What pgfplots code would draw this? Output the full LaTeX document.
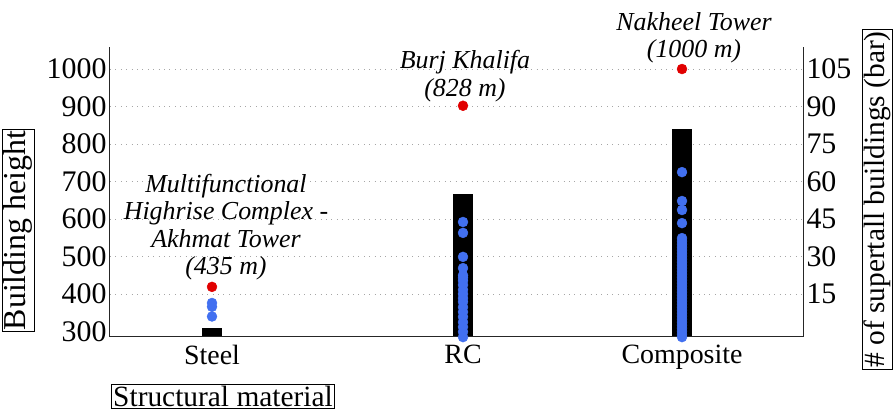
\documentclass[border=0pt]{standalone}
\usepackage{pgfplots}
\pgfplotsset{compat=1.18}
\usepackage{fontspec}
\setmainfont{Liberation Serif}
\definecolor{dotblue}{RGB}{66,112,240}
\definecolor{dotred}{RGB}{225,0,0}
\newcommand{\bigf}{\fontsize{28}{30}\selectfont}
\newcommand{\tickf}{\fontsize{30}{32}\selectfont}
\newcommand{\annf}{\fontsize{26}{27.5}\selectfont\itshape}
\begin{document}
\begin{tikzpicture}[x=1bp,y=1bp]
\pgfplotsset{base/.style={
  at={(110bp,76bp)}, anchor=south west,
  width=693bp, height=290bp, scale only axis,
  xmin=0, xmax=693,
  /pgf/number format/assume math mode=true,
  /pgf/number format/1000 sep={},
  yticklabel style={font=\tickf},
  xticklabel style={font=\bigf, yshift=-5bp},
  major tick length=0pt,
  axis line style={line width=1bp, black!85},
  clip=false,
}}
% right axis: number of supertall buildings (bars)
\begin{axis}[base,
  ymin=-2.2, ymax=113.8,
  axis x line=none, axis y line*=right,
  ytick={15,30,45,60,75,90,105},
  ymajorgrids, grid style={gray!70, line width=0.9bp, dash pattern=on 0.9bp off 4.5bp},
]
\addplot[fill=black, draw=none] coordinates {(92,-2.2) (92,1.2) (112,1.2) (112,-2.2)} -- cycle;
\addplot[fill=black, draw=none] coordinates {(343,-2.2) (343,55) (363,55) (363,-2.2)} -- cycle;
\addplot[fill=black, draw=none] coordinates {(562,-2.2) (562,81) (582,81) (582,-2.2)} -- cycle;
\end{axis}
% left axis: building height (dots)
\begin{axis}[base,
  ymin=285.3, ymax=1058.7,
  axis lines*=left,
  xtick={102,353,572}, xticklabels={Steel,RC,Composite},
  ytick={300,400,500,600,700,800,900,1000},
]
\addplot[only marks, mark=*, mark size=5bp, color=dotblue, mark options={draw=dotblue, fill=dotblue}] coordinates {
 (102,376) (102,366) (102,340)
 (353,592) (353,563) (353,499) (353,469) (353,450) (353,443) (353,435) (353,424) (353,411) (353,400)
 (353,389) (353,379) (353,365) (353,352) (353,339) (353,325) (353,312) (353,299) (353,285)
 (572,725) (572,648) (572,624) (572,589) (572,549) (572,541) (572,533) (572,525) (572,517) (572,509)
 (572,501) (572,493) (572,485) (572,477) (572,469) (572,461) (572,453) (572,445) (572,437) (572,429)
 (572,421) (572,413) (572,405) (572,397) (572,389) (572,381) (572,373) (572,365) (572,357) (572,349)
 (572,341) (572,333) (572,325) (572,317) (572,309) (572,301) (572,293) (572,285)
};
\addplot[only marks, mark=*, mark size=5bp, color=dotred, mark options={draw=dotred, fill=dotred}] coordinates {
 (102,419) (353,902) (572,1000)
};
\end{axis}
% annotations
\node[align=center, font=\annf, inner sep=0pt] at (226bp,186bp) {Multifunctional\\Highrise Complex -\\Akhmat Tower\\(435 m)};
\node[align=center, font=\annf, inner sep=0pt] at (465bp,337bp) {Burj Khalifa\\(828 m)};
\node[align=center, font=\annf, inner sep=0pt] at (694bp,375bp) {Nakheel Tower\\(1000 m)};
% axis titles
\node[draw, line width=0.8bp, rotate=90, font=\fontsize{32}{34}\selectfont, inner sep=1.5bp] at (18bp,182.5bp) {Building height};
\node[draw, line width=0.8bp, rotate=90, font=\fontsize{29.5}{31}\selectfont, inner sep=1.5bp] at (877bp,213.5bp) {\# of supertall buildings (bar)};
\node[draw, line width=0.8bp, font=\fontsize{29.5}{31}\selectfont, inner sep=2bp] at (223bp,16.5bp) {Structural material};
\pgfresetboundingbox
\useasboundingbox (0,0) rectangle (893bp,413bp);
\end{tikzpicture}
\end{document}
